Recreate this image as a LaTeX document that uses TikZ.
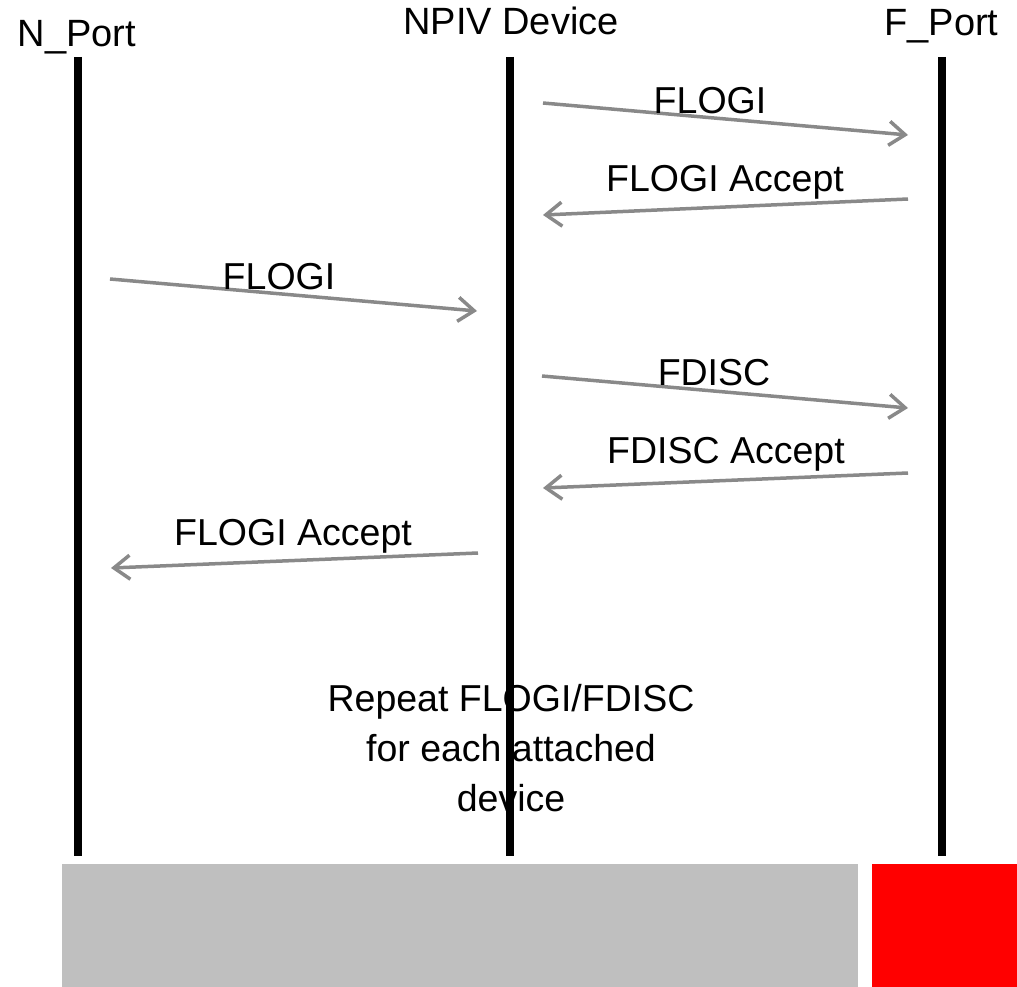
\documentclass[tikz,border=0pt]{standalone}
\usepackage{fontspec}
\setmainfont{Liberation Sans}
\usetikzlibrary{arrows.meta}
\definecolor{msggray}{HTML}{898989}
\definecolor{basegray}{HTML}{BFBFBF}
\definecolor{portred}{HTML}{FF0000}
\begin{document}
\begin{tikzpicture}[x=1pt,y=-1pt,
  lifeline/.style={line width=7.5pt},
  msg/.style={draw=msggray, line width=3.5pt,
    -{Straight Barb[length=16pt,width=24pt]}},
  txt/.style={font=\fontsize{37.5}{45}\selectfont, anchor=base, inner sep=0pt},
  header/.style={txt, font=\fontsize{38}{45}\selectfont}]
  \useasboundingbox (0,0) rectangle (1017,987);

  % bottom bars
  \fill[basegray] (62,864) rectangle (858,987);
  \fill[portred] (872,864) rectangle (1017,987);

  % participant names
  \node[header] (hN) at (77,47) {N\_Port};
  \node[header] (hV) at (511,35) {NPIV Device};
  \node[header] (hF) at (941.5,36) {F\_Port};

  % note about repetition (lifeline runs over it)
  \node[txt] (rep1) at (511,711) {Repeat FLOGI/FDISC};
  \node[txt] (rep2) at (511,761) {for each attached};
  \node[txt] (rep3) at (511,811) {device};

  % lifelines
  \coordinate (nTop) at (78,57);   \coordinate (nBot) at (78,856);
  \coordinate (vTop) at (510,57);  \coordinate (vBot) at (510,856);
  \coordinate (fTop) at (942,57);  \coordinate (fBot) at (942,856);
  \draw[lifeline] (nTop) -- (nBot);
  \draw[lifeline] (vTop) -- (vBot);
  \draw[lifeline] (fTop) -- (fBot);

  % message end points
  \coordinate (m1a) at (543,103); \coordinate (m1b) at (908,135);
  \coordinate (m2a) at (908,199); \coordinate (m2b) at (543,215);
  \coordinate (m3a) at (110,279); \coordinate (m3b) at (477,311);
  \coordinate (m4a) at (542,376); \coordinate (m4b) at (908,408);
  \coordinate (m5a) at (908,473); \coordinate (m5b) at (543,488);
  \coordinate (m6a) at (478,553); \coordinate (m6b) at (111,568);

  % messages
  \draw[msg] (m1a) -- (m1b);
  \draw[msg] (m2a) -- (m2b);
  \draw[msg] (m3a) -- (m3b);
  \draw[msg] (m4a) -- (m4b);
  \draw[msg] (m5a) -- (m5b);
  \draw[msg] (m6a) -- (m6b);

  % message labels
  \node[txt] (l1) at (710,114) {FLOGI};
  \node[txt] (l2) at (725,192) {FLOGI Accept};
  \node[txt] (l3) at (279,289) {FLOGI};
  \node[txt] (l4) at (714,385) {FDISC};
  \node[txt] (l5) at (726,463) {FDISC Accept};
  \node[txt] (l6) at (293,545) {FLOGI Accept};
\end{tikzpicture}
\end{document}
